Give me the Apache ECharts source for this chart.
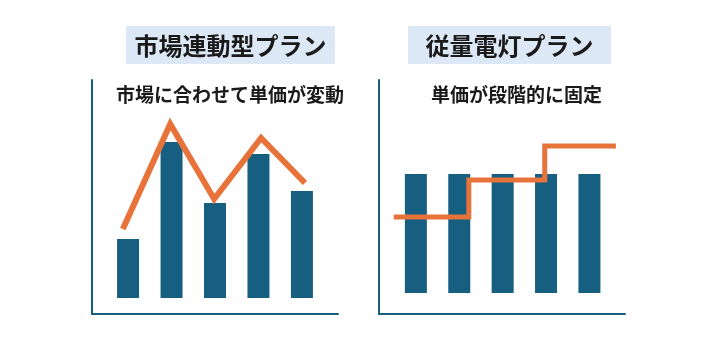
<!DOCTYPE html>
<html lang="ja">
<head>
    <meta charset="UTF-8">
    <title>市場連動型プランと従量電灯プラン</title>
    <script src="https://cdn.jsdelivr.net/npm/echarts@6/dist/echarts.min.js"></script>
    <style>
        html, body { margin: 0; padding: 0; background: #fff; }
        #chart { width: 710px; height: 355px; }
    </style>
</head>
<body>
    <div id="chart"></div>
    <script>
        // 左: 市場連動型プラン
        const barPos = [1, 2, 3, 4, 5];
        const marketBars = [29.5, 78, 47.5, 72, 53.5];
        const marketLineX = [0.88, 1.97, 2.98, 4.06, 5.07];
        const marketLineY = [34.5, 87, 49.5, 80, 57.5];

        // 右: 従量電灯プラン
        const fixedBars = [59.5, 59.5, 59.5, 59.5, 59.5];
        const fixedStepX = [0.49, 2.22, 3.97, 5.61];
        const fixedStepY = [38, 56.5, 73.5, 73.5];

        const titles = ['市場連動型プラン', '従量電灯プラン'];
        const subtitles = ['市場に合わせて単価が変動', '単価が段階的に固定'];

        const BLUE = '#175f80';
        const ORANGE = '#e8733a';
        const FONT = '"Noto Sans CJK JP", "Noto Sans", sans-serif';

        const zip = (xs, ys) => xs.map((x, i) => [x, ys[i]]);

        const axisLine = { show: true, onZero: false, lineStyle: { color: BLUE, width: 2 } };
        const bareAxis = {
            axisLine: axisLine,
            axisTick: { show: false },
            axisLabel: { show: false },
            splitLine: { show: false }
        };

        const chart = echarts.init(document.getElementById('chart'));
        chart.setOption({
            animation: false,
            grid: [
                { left: 92, top: 80, width: 246, height: 234 },
                { left: 379, top: 80, width: 246, height: 234 }
            ],
            xAxis: [
                Object.assign({ type: 'value', gridIndex: 0, min: 0.17, max: 5.83 }, bareAxis),
                Object.assign({ type: 'value', gridIndex: 1, min: 0.15, max: 5.82 }, bareAxis)
            ],
            yAxis: [
                Object.assign({ type: 'value', gridIndex: 0, min: -8, max: 109 }, bareAxis),
                Object.assign({ type: 'value', gridIndex: 1, min: -10.5, max: 106.5 }, bareAxis)
            ],
            graphic: [
                { type: 'rect', shape: { x: 126, y: 26, width: 209, height: 38 }, style: { fill: '#dce8f5' } },
                { type: 'rect', shape: { x: 408, y: 26, width: 203, height: 38 }, style: { fill: '#dce8f5' } },
                { type: 'text', x: 230.5, y: 46, style: { text: titles[0], fill: '#1a1a1a', font: 'bold 24px ' + FONT, align: 'center', verticalAlign: 'middle' } },
                { type: 'text', x: 509.5, y: 46, style: { text: titles[1], fill: '#1a1a1a', font: 'bold 24px ' + FONT, align: 'center', verticalAlign: 'middle' } },
                { type: 'text', x: 230, y: 95, style: { text: subtitles[0], fill: '#1a1a1a', font: 'bold 19px ' + FONT, align: 'center', verticalAlign: 'middle' } },
                { type: 'text', x: 516.5, y: 95, style: { text: subtitles[1], fill: '#1a1a1a', font: 'bold 19px ' + FONT, align: 'center', verticalAlign: 'middle' } }
            ],
            series: [
                {
                    type: 'bar',
                    xAxisIndex: 0,
                    yAxisIndex: 0,
                    barWidth: 22,
                    itemStyle: { color: BLUE },
                    data: zip(barPos, marketBars)
                },
                {
                    type: 'line',
                    xAxisIndex: 0,
                    yAxisIndex: 0,
                    showSymbol: false,
                    lineStyle: { color: ORANGE, width: 6, join: 'miter' },
                    z: 3,
                    data: zip(marketLineX, marketLineY)
                },
                {
                    type: 'bar',
                    xAxisIndex: 1,
                    yAxisIndex: 1,
                    barWidth: 22,
                    itemStyle: { color: BLUE },
                    data: zip(barPos, fixedBars)
                },
                {
                    type: 'line',
                    xAxisIndex: 1,
                    yAxisIndex: 1,
                    step: 'end',
                    showSymbol: false,
                    lineStyle: { color: ORANGE, width: 5, join: 'miter' },
                    z: 3,
                    data: zip(fixedStepX, fixedStepY)
                }
            ]
        });
    </script>
</body>
</html>
